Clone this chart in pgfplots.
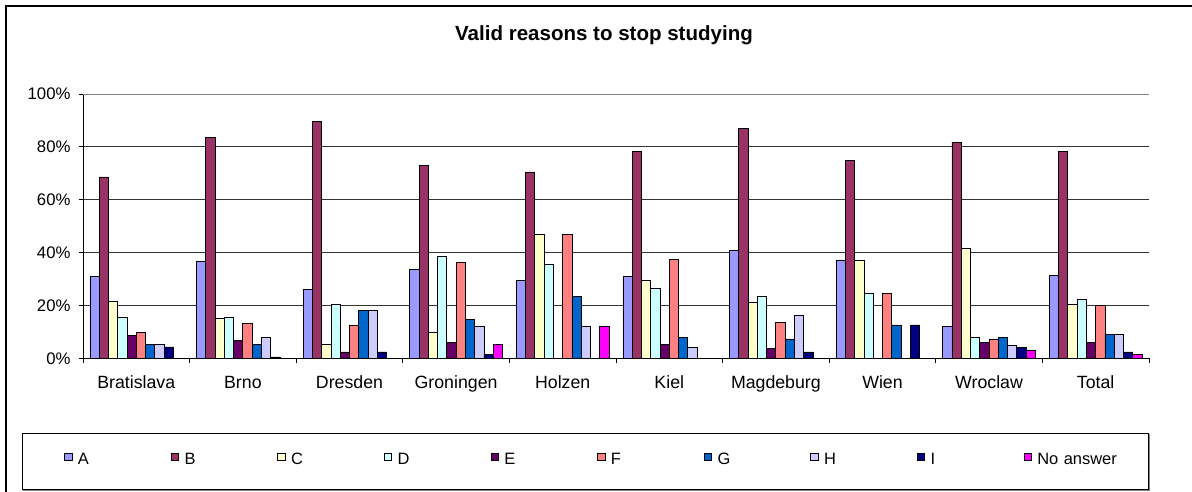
\documentclass[border=0pt]{standalone}
\usepackage{pgfplots}
\pgfplotsset{compat=1.18}
\usepackage{pgfplotstable}
\usepackage{fontspec}
\setmainfont{Liberation Sans}
\definecolor{cA}{HTML}{9999FF}
\definecolor{cB}{HTML}{993366}
\definecolor{cC}{HTML}{FFFFCC}
\definecolor{cD}{HTML}{CCFFFF}
\definecolor{cE}{HTML}{660066}
\definecolor{cF}{HTML}{FF8080}
\definecolor{cG}{HTML}{0066CC}
\definecolor{cH}{HTML}{CCCCFF}
\definecolor{cI}{HTML}{000080}
\definecolor{cN}{HTML}{FF00FF}
\pgfplotstableread{
idx A    B    C    D    E   F    G    H    I    N
0   30.8 68.6 21.7 15.5 8.6 9.7  5.3  5.3  4.3  0
1   36.8 83.7 15.0 15.5 6.6 13.2 5.3  7.8  0.5  0
2   26.0 89.5 5.3  20.3 2.4 12.6 18.0 18.0 2.4  0
3   33.7 72.9 9.7  38.6 6.1 36.2 14.6 12.1 1.6  5.3
4   29.5 70.5 46.9 35.6 0   46.9 23.5 12.1 0    12.1
5   30.8 78.3 29.5 26.4 5.3 37.3 7.8  4.2  0    0
6   40.9 87.1 21.1 23.5 3.7 13.7 7.3  16.3 2.4  0
7   37.2 74.7 37.2 24.7 0   24.7 12.6 0    12.6 0
8   12.1 81.8 41.4 7.8  6.1 7.3  7.8  4.8  4.2  3.0
9   31.3 78.3 20.3 22.3 6.1 19.9 9.0  9.0  2.4  1.6
}\datatable
\begin{document}
\begin{tikzpicture}[x=1bp,y=1bp]
\useasboundingbox (0,0) rectangle (1192,492);
\draw[line width=1.2bp] (6,0) -- (6,486) -- (1192,486);
\node[font=\bfseries\fontsize{20.6}{24}\selectfont] at (604,457) {Valid reasons to stop studying};
\draw[gray, line width=1.5bp] (23,2) -- (1149,2) -- (1149,58);
\draw[black, line width=0.8bp] (22,59) rectangle (1148,3);
\begin{axis}[
  at={(83bp,133.7bp)}, anchor=south west,
  scale only axis, width=1066bp, height=264.3bp,
  ybar=0pt, bar width=9.27bp,
  xmin=-0.5, xmax=9.5, ymin=0, ymax=100,
  axis x line*=bottom, axis y line*=left,
  axis line style={black, line width=0.8bp},
  xtick={0,...,9},
  xticklabels={Bratislava,Brno,Dresden,Groningen,Holzen,Kiel,Magdeburg,Wien,Wroclaw,Total},
  major x tick style={draw=none},
  minor xtick={-0.5,0.5,...,9.5},
  minor x tick style={black, line width=0.8bp},
  minor tick length=5bp,
  tick align=outside,
  ytick={0,20,40,60,80,100},
  yticklabels={0\%,20\%,40\%,60\%,80\%,100\%},
  major y tick style={black, line width=0.8bp},
  major tick length=4bp,
  ymajorgrids,
  grid style={black!80, line width=0.7bp},
  xticklabel style={font=\fontsize{17.8}{20}\selectfont, yshift=-10bp},
  yticklabel style={font=\fontsize{16.8}{20}\selectfont, xshift=-5bp},
  every axis plot post/.append style={draw=black, line width=0.8bp,
    legend image code/.code={\draw[##1,draw=black,line width=0.8bp] (0bp,-0.8bp) rectangle (7.5bp,6.7bp);}},
  legend columns=10,
  legend style={draw=none, fill=none, inner sep=0pt,
    at={(axis description cs:-0.0179,-0.3848)}, anchor=west,
    font=\fontsize{16.5}{19}\selectfont,
    nodes={text width=87.3bp, inner xsep=5.5bp},
    /tikz/every even column/.append style={column sep=0pt}},
]
\addplot[fill=cA] table[x=idx,y=A]{\datatable}; \addlegendentry{A}
\addplot[fill=cB] table[x=idx,y=B]{\datatable}; \addlegendentry{B}
\addplot[fill=cC] table[x=idx,y=C]{\datatable}; \addlegendentry{C}
\addplot[fill=cD] table[x=idx,y=D]{\datatable}; \addlegendentry{D}
\addplot[fill=cE] table[x=idx,y=E]{\datatable}; \addlegendentry{E}
\addplot[fill=cF] table[x=idx,y=F]{\datatable}; \addlegendentry{F}
\addplot[fill=cG] table[x=idx,y=G]{\datatable}; \addlegendentry{G}
\addplot[fill=cH] table[x=idx,y=H]{\datatable}; \addlegendentry{H}
\addplot[fill=cI] table[x=idx,y=I]{\datatable}; \addlegendentry{I}
\addplot[fill=cN] table[x=idx,y=N]{\datatable}; \addlegendentry{No answer}
\draw[gray, line width=0.8bp] (rel axis cs:0,1) -- (rel axis cs:1,1) -- (rel axis cs:1,0);
\end{axis}
\end{tikzpicture}
\end{document}
